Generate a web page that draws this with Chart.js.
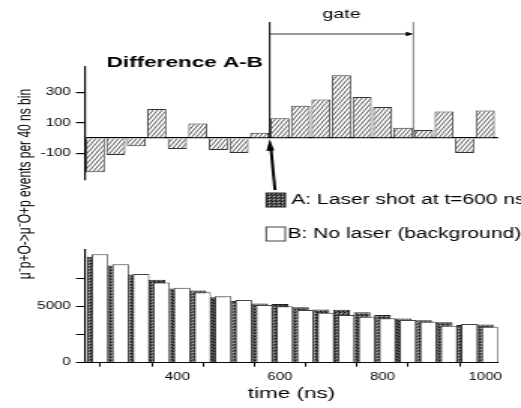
<!DOCTYPE html>
<html>
<head>
<meta charset="utf-8">
<script src="https://cdn.jsdelivr.net/npm/chart.js@4.4.0/dist/chart.umd.min.js"></script>
<style>
  html, body { margin: 0; padding: 0; background: #fff; overflow: hidden; }
  #wrap { position: absolute; left: 0; top: 0; width: 347px; height: 408px;
          transform: scaleX(1.5014); transform-origin: 0 0; }
  #topChart { position: absolute; left: 0; top: 0; }
  #bottomChart { position: absolute; left: 0; top: 185px; }
  #yTitle { position: absolute; left: -114px; top: 175px; width: 260px; height: 18px;
            line-height: 18px; text-align: center; white-space: nowrap;
            font: 12px "Liberation Sans", Arial, sans-serif; color: #000;
            transform: rotate(-90deg); }
</style>
</head>
<body>
<div id="wrap">
  <canvas id="topChart" width="347" height="200"></canvas>
  <canvas id="bottomChart" width="347" height="223"></canvas>
  <div id="yTitle">μ⁻p+O-&gt;μ⁻O+p events per 40 ns bin</div>
</div>
<script>
// 40 ns bins
const binCenters = [240, 280, 320, 360, 400, 440, 480, 520, 560, 600,
                    640, 680, 720, 760, 800, 840, 880, 920, 960, 1000];
const diffCounts = [-226, -112, -55, 191, -73, 95, -79, -99, 35, 130,
                    213, 253, 413, 270, 204, 68, 53, 174, -99, 182];
const laserCounts = [9450, 8680, 7870, 7400, 6630, 6450, 5850, 5500, 5280, 5240,
                     4960, 4750, 4730, 4500, 4250, 3940, 3790, 3600, 3360, 3410];
const backgroundCounts = [9680, 8790, 7920, 7150, 6700, 6290, 5930, 5600, 5150, 5050,
                          4710, 4460, 4260, 4110, 3960, 3810, 3660, 3300, 3460, 3210];
const diffTicks = [-100, 0, 100, 300];
const countTicks = [0, 2500, 5000, 7500];
const timeTicks = [300, 400, 500, 600, 700, 800, 900, 1000];
const gateStart = 580, gateEnd = 860;

Chart.defaults.font.family = '"Liberation Sans", Arial, sans-serif';
Chart.defaults.color = '#000';

function makePattern(w, h, draw) {
  const c = document.createElement('canvas');
  c.width = w; c.height = h;
  const g = c.getContext('2d');
  draw(g, w, h);
  return g.createPattern(c, 'repeat');
}

const hatch = makePattern(3, 5, (g, w, h) => {
  g.fillStyle = '#fff';
  g.fillRect(0, 0, w, h);
  g.strokeStyle = '#333';
  g.lineWidth = 0.8;
  [-w, 0, w].forEach(dx => {
    g.beginPath(); g.moveTo(dx, h); g.lineTo(dx + w, 0); g.stroke();
  });
});

const dots = makePattern(3, 3, (g, w, h) => {
  g.fillStyle = '#5a5a5a';
  g.fillRect(0, 0, w, h);
  g.fillStyle = '#111';
  g.fillRect(0, 0, 1, 1);
  g.fillRect(1, 1, 1, 1);
  g.fillStyle = '#aaa';
  g.fillRect(2, 2, 1, 1);
});

const topPlugin = {
  id: 'gate',
  afterDraw(chart) {
    const {ctx, scales: {x, y}} = chart;
    const x0 = x.getPixelForValue(gateStart);
    const x1 = x.getPixelForValue(gateEnd);
    const y0 = y.getPixelForValue(0);
    ctx.save();
    // gate lines
    ctx.lineWidth = 1;
    ctx.strokeStyle = '#000';
    ctx.beginPath(); ctx.moveTo(x0, 22); ctx.lineTo(x0, y0); ctx.stroke();
    ctx.strokeStyle = '#777';
    ctx.beginPath(); ctx.moveTo(x1, 22); ctx.lineTo(x1, y0); ctx.stroke();
    ctx.strokeStyle = '#000';
    ctx.lineWidth = 0.8;
    ctx.beginPath(); ctx.moveTo(x0, 34); ctx.lineTo(x1 - 4, 34); ctx.stroke();
    ctx.fillStyle = '#000';
    ctx.beginPath(); ctx.moveTo(x1, 34); ctx.lineTo(x1 - 5, 31.8); ctx.lineTo(x1 - 5, 36.2); ctx.closePath(); ctx.fill();
    ctx.font = '13px "Liberation Sans", Arial, sans-serif';
    ctx.textAlign = 'center';
    ctx.textBaseline = 'middle';
    ctx.fillText('gate', (x0 + x1) / 2, 14);
    // title
    ctx.font = 'bold 15px "Liberation Sans", Arial, sans-serif';
    ctx.textAlign = 'left';
    ctx.fillText('Difference A-B', 71, 63);
    // laser arrow
    ctx.lineWidth = 2;
    ctx.beginPath(); ctx.moveTo(x0 + 3.5, 190); ctx.lineTo(x0 + 0.8, y0 + 10); ctx.stroke();
    ctx.beginPath(); ctx.moveTo(x0, y0 + 1); ctx.lineTo(x0 - 2.2, y0 + 13); ctx.lineTo(x0 + 3, y0 + 12.5); ctx.closePath(); ctx.fill();
    ctx.restore();
  }
};

const legendPlugin = {
  id: 'sideLegend',
  afterDraw(chart) {
    const ctx = chart.ctx;
    ctx.save();
    ctx.font = '14px "Liberation Sans", Arial, sans-serif';
    ctx.textBaseline = 'middle';
    ctx.textAlign = 'left';
    chart.data.datasets.forEach((ds, i) => {
      const cy = 15 + 34 * i;
      ctx.fillStyle = ds.backgroundColor;
      ctx.fillRect(177.3, cy - 7, 12.7, 14);
      ctx.lineWidth = 1;
      ctx.strokeStyle = ds.borderColor;
      ctx.strokeRect(177.3, cy - 7, 12.7, 14);
      ctx.fillStyle = '#000';
      ctx.fillText(ds.label, i === 0 ? 194 : 191.5, cy);
    });
    ctx.restore();
  }
};

new Chart(document.getElementById('topChart'), {
  type: 'bar',
  data: {
    datasets: [{
      label: 'Difference A-B',
      data: binCenters.map((t, i) => ({x: t, y: diffCounts[i]})),
      backgroundColor: hatch,
      borderColor: '#333',
      borderWidth: 1,
      categoryPercentage: 1,
      barPercentage: 0.93
    }]
  },
  options: {
    responsive: false,
    animation: false,
    layout: {padding: {top: 66.7, bottom: 20, left: 0, right: 15.3}},
    plugins: {legend: {display: false}, tooltip: {enabled: false}},
    scales: {
      x: {type: 'linear', min: 220, max: 1025, display: false, offset: false},
      y: {
        min: -277, max: 470,
        afterFit: a => { a.width = 56.6; },
        afterBuildTicks: a => { a.ticks = diffTicks.map(v => ({value: v})); },
        ticks: {callback: v => (v === 0 ? '' : String(v)), padding: 3.5, font: {size: 10}, color: '#000'},
        grid: {
          color: c => (c.tick && c.tick.value === 0 ? '#000' : 'rgba(0,0,0,0)'),
          tickColor: c => (c.tick && c.tick.value === 0 ? 'rgba(0,0,0,0)' : '#000'),
          tickLength: 6,
          lineWidth: 1.2
        },
        border: {color: '#000', width: 1.2}
      }
    }
  },
  plugins: [topPlugin]
});

new Chart(document.getElementById('bottomChart'), {
  type: 'bar',
  data: {
    datasets: [{
      label: 'A: Laser shot at t=600 ns',
      data: binCenters.map((t, i) => ({x: t, y: laserCounts[i]})),
      xAxisID: 'x',
      backgroundColor: dots,
      borderColor: '#222',
      borderWidth: 1,
      order: 2,
      grouped: false,
      categoryPercentage: 1,
      barPercentage: 0.82
    }, {
      label: 'B: No laser (background)',
      data: binCenters.map((t, i) => ({x: t, y: backgroundCounts[i]})),
      xAxisID: 'xB',
      backgroundColor: '#fff',
      borderColor: '#444',
      borderWidth: 1,
      order: 1,
      grouped: false,
      categoryPercentage: 1,
      barPercentage: 0.82
    }]
  },
  options: {
    responsive: false,
    animation: false,
    layout: {padding: {top: 65, bottom: 0, left: 0, right: 15.3}},
    plugins: {legend: {display: false}, tooltip: {enabled: false}},
    scales: {
      x: {
        type: 'linear', min: 220, max: 1025, offset: false,
        afterFit: a => { a.height = 45.3; },
        afterBuildTicks: a => { a.ticks = timeTicks.map(v => ({value: v})); },
        ticks: {callback: v => (v % 200 === 0 ? String(v) : ''), padding: 5, maxRotation: 0,
                autoSkip: false, font: {size: 10}, color: '#000'},
        grid: {drawOnChartArea: false, tickLength: 4, color: '#000'},
        border: {color: '#000', width: 1},
        title: {display: true, text: 'time (ns)', font: {size: 15, weight: 'normal'}, color: '#000',
                padding: {top: 0, bottom: 5}}
      },
      xB: {type: 'linear', min: 220 - 9.2, max: 1025 - 9.2, display: false, offset: false},
      y: {
        min: 0, max: 10060,
        afterFit: a => { a.width = 56.6; },
        afterBuildTicks: a => { a.ticks = countTicks.map(v => ({value: v})); },
        ticks: {callback: v => (v % 5000 === 0 ? String(v) : ''), padding: 3.5, font: {size: 10}, color: '#000'},
        grid: {drawOnChartArea: false, tickLength: 6, color: '#000'},
        border: {color: '#000', width: 1.2}
      }
    }
  },
  plugins: [legendPlugin]
});
</script>
</body>
</html>
